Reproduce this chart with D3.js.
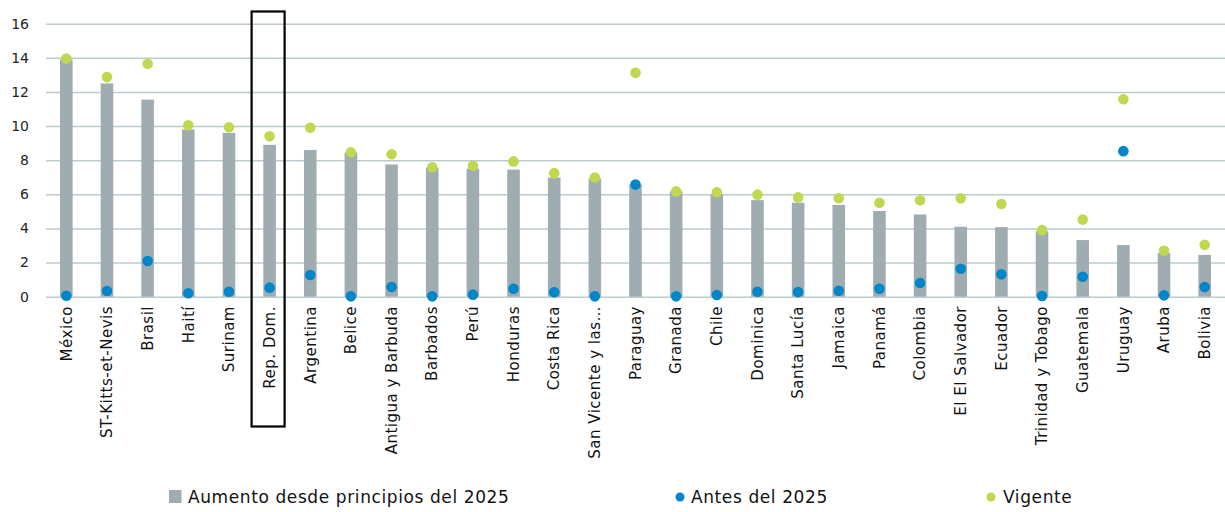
<!DOCTYPE html>
<html>
<head>
<meta charset="utf-8">
<script src="https://cdn.jsdelivr.net/npm/d3@7"></script>
<style>
  body { margin: 0; background: #fff; font-family: "DejaVu Sans", sans-serif; }
  .grid line { stroke: #bfcacf; stroke-width: 1.5; }
  .grid path { display: none; }
</style>
</head>
<body>
<script>
// ---------------- Data ----------------
const countries = ["México", "ST-Kitts-et-Nevis", "Brasil", "Haití", "Surinam", "Rep. Dom.", "Argentina", "Belice",
  "Antigua y Barbuda", "Barbados", "Perú", "Honduras", "Costa Rica", "San Vicente y las…", "Paraguay", "Granada",
  "Chile", "Dominica", "Santa Lucía", "Jamaica", "Panamá", "Colombia", "El El Salvador", "Ecuador",
  "Trinidad y Tobago", "Guatemala", "Uruguay", "Aruba", "Bolivia"];

// Aumento desde principios del 2025
const increase = [13.9, 12.5, 11.55, 9.8, 9.6, 8.9, 8.6, 8.45, 7.75, 7.56, 7.5, 7.45, 6.98, 6.92, 6.57, 6.17,
  5.98, 5.66, 5.51, 5.38, 5.02, 4.82, 4.1, 4.08, 3.83, 3.32, 3.03, 2.56, 2.45];
// Antes del 2025
const before = [0.06, 0.33, 2.09, 0.2, 0.29, 0.53, 1.27, 0.02, 0.57, 0.02, 0.12, 0.47, 0.26, 0.02, 6.57, 0.02,
  0.1, 0.29, 0.27, 0.35, 0.47, 0.8, 1.64, 1.31, 0.04, 1.17, 8.53, 0.08, 0.57];
// Vigente
const current = [13.96, 12.87, 13.65, 10.05, 9.93, 9.4, 9.9, 8.47, 8.35, 7.59, 7.67, 7.93, 7.24, 6.99, 13.12, 6.17,
  6.12, 5.98, 5.82, 5.77, 5.51, 5.65, 5.77, 5.43, 3.9, 4.52, 11.57, 2.69, 3.04];

const yTicks = [0, 2, 4, 6, 8, 10, 12, 14, 16];
const highlighted = "Rep. Dom.";

const legendItems = ["Aumento desde principios del 2025", "Antes del 2025", "Vigente"];

// ---------------- Layout ----------------
const width = 1225, height = 512;
const colors = { bar: "#9fadb3", before: "#0086c9", current: "#bfd84f" };

const svg = d3.select("body").append("svg").attr("width", width).attr("height", height);

const x = d3.scaleBand().domain(countries).range([46, 1225]).padding(0);
const y = d3.scaleLinear().domain([0, 16]).range([296.7, 23.7]);

// grid + y labels
svg.append("g")
  .attr("class", "grid")
  .attr("transform", "translate(46,0)")
  .call(d3.axisLeft(y).tickValues(yTicks).tickSize(-(1225 - 46)).tickFormat(""));

svg.append("g")
  .selectAll("text")
  .data(yTicks)
  .enter()
  .append("text")
  .attr("x", 29)
  .attr("y", (d) => y(d))
  .attr("dy", "0.35em")
  .attr("text-anchor", "end")
  .style("font-size", "14px")
  .style("fill", "#222")
  .text((d) => d);

// bars
const barW = x.bandwidth() * 0.31;
svg.append("g")
  .selectAll("rect")
  .data(countries)
  .enter()
  .append("rect")
  .attr("x", (d) => x(d) + x.bandwidth() / 2 - barW / 2)
  .attr("y", (d, i) => y(increase[i]))
  .attr("width", barW)
  .attr("height", (d, i) => y(0) - y(increase[i]))
  .attr("fill", colors.bar);

// dots
const dotGroup = svg.append("g");
dotGroup.selectAll(".before")
  .data(countries)
  .enter()
  .append("circle")
  .attr("class", "before")
  .attr("cx", (d) => x(d) + x.bandwidth() / 2)
  .attr("cy", (d, i) => y(before[i]))
  .attr("r", 5.3)
  .attr("fill", colors.before);

dotGroup.selectAll(".current")
  .data(countries)
  .enter()
  .append("circle")
  .attr("class", "current")
  .attr("cx", (d) => x(d) + x.bandwidth() / 2)
  .attr("cy", (d, i) => y(current[i]))
  .attr("r", 5.3)
  .attr("fill", colors.current);

// x labels
svg.append("g")
  .selectAll("text")
  .data(countries)
  .enter()
  .append("text")
  .attr("transform", (d) => `translate(${x(d) + x.bandwidth() / 2},306) rotate(-90)`)
  .attr("dy", "0.35em")
  .attr("text-anchor", "end")
  .style("font-size", "15px")
  .style("letter-spacing", "0.5px")
  .style("fill", "#111")
  .text((d) => d);

// highlight box
const hx = x(highlighted) + x.bandwidth() / 2;
svg.append("rect")
  .attr("x", hx - 18)
  .attr("y", 11.5)
  .attr("width", 33)
  .attr("height", 415)
  .attr("fill", "none")
  .attr("stroke", "#000")
  .attr("stroke-width", 2.2);

// legend
const legend = svg.append("g").style("font-size", "17px").style("letter-spacing", "0.6px").style("fill", "#111");
legend.append("rect").attr("x", 169).attr("y", 490).attr("width", 12.5).attr("height", 13).attr("fill", colors.bar);
legend.append("text").attr("x", 188).attr("y", 503).text(legendItems[0]);
legend.append("circle").attr("cx", 680).attr("cy", 497).attr("r", 4.5).attr("fill", colors.before);
legend.append("text").attr("x", 691).attr("y", 503).text(legendItems[1]);
legend.append("circle").attr("cx", 991).attr("cy", 497).attr("r", 4.5).attr("fill", colors.current);
legend.append("text").attr("x", 1003).attr("y", 503).text(legendItems[2]);
</script>
</body>
</html>
